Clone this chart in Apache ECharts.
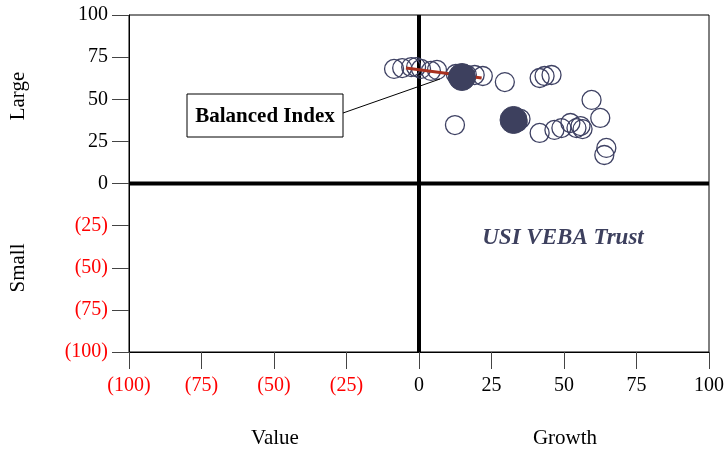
<!DOCTYPE html>
<html>
<head>
<meta charset="utf-8">
<script src="https://cdn.jsdelivr.net/npm/echarts@6/dist/echarts.min.js"></script>
<style>html,body{margin:0;padding:0;background:#fff}#c{width:727px;height:449px}</style>
</head>
<body>
<div id="c"></div>
<script>
// Axis ticks
var xTicks = [-100, -75, -50, -25, 0, 25, 50, 75, 100];
var yTicks = [-100, -75, -50, -25, 0, 25, 50, 75, 100];

// Hollow bubbles (peer / history points)
var hollowX = [-8.6, -5.8, -2.7, -1.0, 0.7, 4.1, 6.2, 12.7, 16.5, 19.2, 22.0, 29.6, 41.6, 43.3, 45.7,
               12.4, 35.0, 34.0, 41.6, 46.7, 49.1, 52.2, 54.3, 55.7, 56.4, 59.5, 62.5, 64.6, 63.9];
var hollowY = [68.0, 68.5, 69.1, 69.1, 68.0, 66.8, 67.4, 65.0, 64.4, 64.4, 63.8, 60.2, 62.6, 63.8, 64.4,
               34.7, 38.3, 36.5, 30.0, 31.8, 32.9, 35.9, 32.9, 34.1, 32.3, 49.6, 38.9, 21.1, 16.9];

// Filled bubbles (current positions)
var filledX = [14.8, 32.6];
var filledY = [63.2, 37.7];

// Balanced Index trail
var indexX = [-4.5, 21.6];
var indexY = [68.5, 62.6];

function zip(a, b) { return a.map(function (v, i) { return [v, b[i]]; }); }
function fmt(v) { return v < 0 ? '(' + Math.abs(v) + ')' : String(v); }
function col(v) { return Number(v) < 0 ? '#ff0000' : '#000000'; }

var FONT = '"Liberation Serif", "Times New Roman", serif';
var chart = echarts.init(document.getElementById('c'), null, {renderer: 'canvas'});

var axisCommon = {
  type: 'value', min: -100, max: 100, interval: 25,
  axisLine: {show: true, onZero: false, lineStyle: {color: '#000', width: 1}},
  axisTick: {show: true, inside: false, length: 17, lineStyle: {color: '#444', width: 1}},
  splitLine: {show: false},
  axisLabel: {formatter: fmt, color: col, fontFamily: FONT, fontSize: 20}
};

var option = {
  animation: false,
  backgroundColor: '#fff',
  grid: {left: 129, right: 16, top: 15, bottom: 97, show: true, borderColor: '#000', borderWidth: 1, backgroundColor: 'transparent'},
  xAxis: Object.assign({}, axisCommon, {position: 'bottom', axisLabel: Object.assign({}, axisCommon.axisLabel, {margin: 24})}),
  yAxis: Object.assign({}, axisCommon, {position: 'left', axisLabel: Object.assign({}, axisCommon.axisLabel, {margin: 21})}),
  series: [
    {type: 'line', data: [[-100, 0], [100, 0]], symbol: 'none', lineStyle: {color: '#000', width: 4}, z: 1, silent: true},
    {type: 'line', data: [[0, -100], [0, 100]], symbol: 'none', lineStyle: {color: '#000', width: 4}, z: 1, silent: true},
    {type: 'scatter', data: zip(hollowX, hollowY), symbol: 'circle', symbolSize: 19,
     itemStyle: {color: 'rgba(255,255,255,0)', borderColor: '#3e4163', borderWidth: 1.3, opacity: 1}, z: 3},
    {type: 'line', data: zip(indexX, indexY), symbol: 'none', lineStyle: {color: '#a8311f', width: 3}, z: 4},
    {type: 'scatter', data: zip(filledX, filledY), symbol: 'circle', symbolSize: 27,
     itemStyle: {color: '#3d405e', borderColor: '#3d405e', borderWidth: 1, opacity: 1}, z: 5}
  ],
  graphic: [
    {type: 'line', shape: {x1: 343, y1: 113, x2: 440, y2: 79}, style: {stroke: '#000', lineWidth: 1}, z: 10},
    {type: 'rect', shape: {x: 187, y: 94, width: 156, height: 43}, style: {fill: '#fff', stroke: '#000', lineWidth: 1}, z: 10},
    {type: 'text', x: 265, y: 117, style: {text: 'Balanced Index', fontFamily: FONT, fontWeight: 'bold', fontSize: 21, fill: '#000', align: 'center', verticalAlign: 'middle'}, z: 11},
    {type: 'text', x: 563, y: 238, style: {text: 'USI VEBA Trust', fontFamily: FONT, fontWeight: 'bold', fontStyle: 'italic', fontSize: 23, fill: '#3d405e', align: 'center', verticalAlign: 'middle'}, z: 11},
    {type: 'text', x: 275, y: 438, style: {text: 'Value', fontFamily: FONT, fontSize: 21, fill: '#000', align: 'center', verticalAlign: 'middle'}},
    {type: 'text', x: 565, y: 438, style: {text: 'Growth', fontFamily: FONT, fontSize: 21, fill: '#000', align: 'center', verticalAlign: 'middle'}},
    {type: 'text', x: 18, y: 96, rotation: Math.PI / 2, style: {text: 'Large', fontFamily: FONT, fontSize: 21, fill: '#000', align: 'center', verticalAlign: 'middle'}},
    {type: 'text', x: 18, y: 268, rotation: Math.PI / 2, style: {text: 'Small', fontFamily: FONT, fontSize: 21, fill: '#000', align: 'center', verticalAlign: 'middle'}}
  ]
};
chart.setOption(option);
</script>
</body>
</html>
